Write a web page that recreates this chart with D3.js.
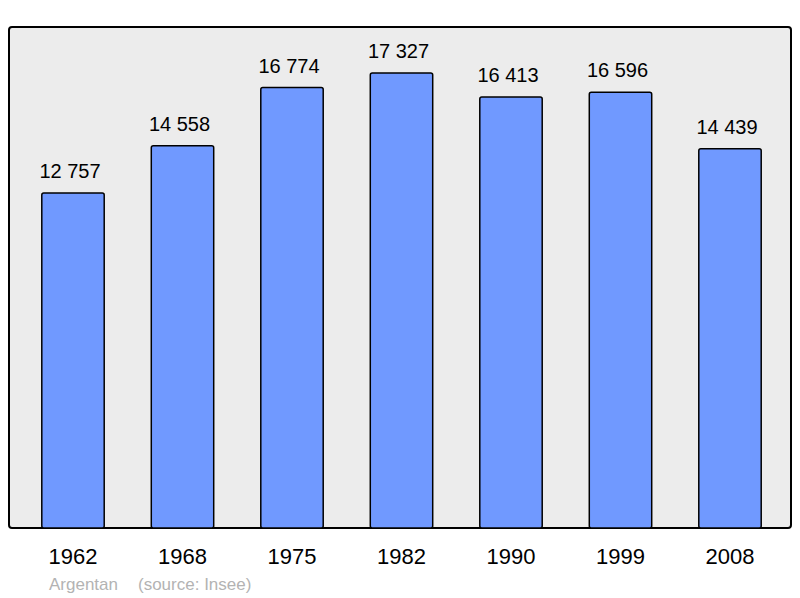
<!DOCTYPE html>
<html><head><meta charset="utf-8">
<script src="https://cdn.jsdelivr.net/npm/d3@7"></script>
<style>body{margin:0;background:#fff}svg{display:block}</style>
</head><body>
<svg id="c" width="800" height="598"></svg>
<script>
const years = ["1962","1968","1975","1982","1990","1999","2008"];
const population = [12757,14558,16774,17327,16413,16596,14439];
const commune = "Argentan";
const source = "(source: Insee)";

const svg = d3.select("#c");
const panel = {x0: 9, x1: 791, y0: 27, y1: 528};
const fmt = v => d3.format(",")(v).replace(/,/g, " ");

svg.append("rect").attr("x", panel.x0).attr("y", panel.y0)
  .attr("width", panel.x1 - panel.x0).attr("height", panel.y1 - panel.y0)
  .attr("rx", 3).attr("fill", "#ececec").attr("stroke", "#000").attr("stroke-width", 2);

const x = d3.scaleBand().domain(years).range([18.25, 784.75]).paddingInner(0.43).paddingOuter(0.215);
const y = d3.scaleLinear().domain([0, 19080]).range([panel.y1, panel.y0]);

const g = svg.append("g");
g.selectAll("rect.bar").data(years).join("rect").attr("class","bar")
  .attr("x", d => x(d)).attr("width", x.bandwidth())
  .attr("y", (d,i) => y(population[i])).attr("height", (d,i) => y(0) - y(population[i]))
  .attr("rx", 2).attr("fill", "#7099ff").attr("stroke", "#000").attr("stroke-width", 1.5);

g.selectAll("text.val").data(years).join("text").attr("class","val")
  .attr("x", d => x(d) + x.bandwidth()/2 - 3).attr("y", (d,i) => y(population[i]) - 15)
  .attr("text-anchor", "middle").attr("font-family", "Liberation Sans, Arial, sans-serif")
  .attr("font-size", 20).attr("fill", "#000").text((d,i) => fmt(population[i]));

const axis = d3.axisBottom(x).tickSize(0).tickPadding(0);
const ax = svg.append("g").attr("transform", `translate(0,${panel.y1})`).call(axis);
ax.select(".domain").remove();
ax.selectAll("text").attr("y", 36).attr("dy", 0)
  .attr("font-family", "Liberation Sans, Arial, sans-serif").attr("font-size", 22).attr("fill", "#000");

svg.append("text").attr("x", 49).attr("y", 590)
  .attr("font-family", "Liberation Sans, Arial, sans-serif").attr("font-size", 17).attr("fill", "#b3b3b3")
  .text(commune);
svg.append("text").attr("x", 138).attr("y", 590)
  .attr("font-family", "Liberation Sans, Arial, sans-serif").attr("font-size", 17).attr("fill", "#b3b3b3")
  .text(source);
</script>
</body></html>
